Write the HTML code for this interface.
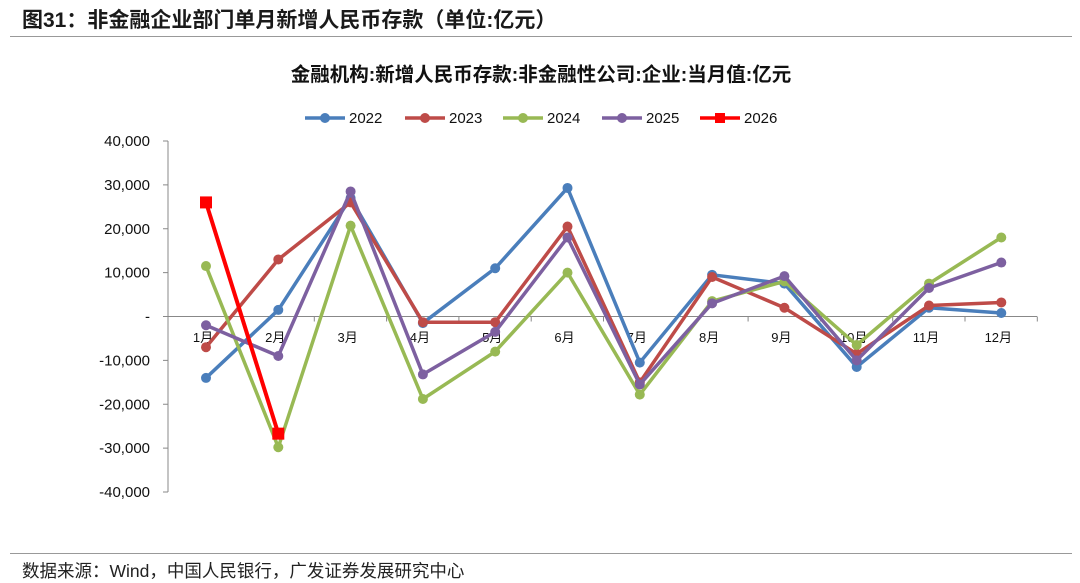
<!DOCTYPE html>
<html><head><meta charset="utf-8">
<style>
body{margin:0;width:1080px;height:583px;background:#fff;font-family:"Liberation Sans","Noto Sans CJK SC",sans-serif;overflow:hidden;position:relative}
.t{position:absolute;white-space:nowrap}
</style></head><body>
<div class="t" style="left:22px;top:4px;font-size:21px;font-weight:bold;color:#1a1a1a">图31：非金融企业部门单月新增人民币存款（单位:亿元）</div>
<div style="position:absolute;left:10px;top:36px;width:1062px;height:1px;background:#999"></div>
<div style="position:absolute;left:10px;top:553px;width:1062px;height:1px;background:#999"></div>
<div class="t" style="left:22px;top:558px;font-size:17.5px;color:#222">数据来源：Wind，中国人民银行，广发证券发展研究中心</div>
<svg id="c" width="1080" height="583" style="position:absolute;left:0;top:0"></svg>
<script>
const months=["1月","2月","3月","4月","5月","6月","7月","8月","9月","10月","11月","12月"];
const yTicks=[40000,30000,20000,10000,0,-10000,-20000,-30000,-40000];
const s2022=[-14000,1500,27000,-1500,11000,29300,-10500,9500,7500,-11500,2000,800];
const s2023=[-7000,13000,26000,-1300,-1300,20500,-15000,9000,2000,-8500,2500,3200];
const s2024=[11500,-29800,20700,-18800,-8000,10000,-17800,3500,8000,-6500,7500,18000];
const s2025=[-2000,-9000,28500,-13200,-3500,18000,-15500,3000,9200,-10000,6500,12300];
const s2026=[26000,-26700];
const seriesNames=["2022","2023","2024","2025","2026"];
const colors=["#4a7ebb","#be4b48","#98b954","#7d60a0","#ff0000"];
const all=[s2022,s2023,s2024,s2025,s2026];
const svg=document.getElementById('c');const NS="http://www.w3.org/2000/svg";
function el(t,a){const e=document.createElementNS(NS,t);for(const k in a)e.setAttribute(k,a[k]);svg.appendChild(e);return e;}
const y=v=>316.5-v*(351/80000);
const x=i=>206+i*72.3;
let e=el('text',{x:541,y:81,'text-anchor':'middle','font-size':19.5,'font-weight':'bold',fill:'#111'});e.textContent="金融机构:新增人民币存款:非金融性公司:企业:当月值:亿元";


e=el('line',{x1:168,x2:168,y1:141,y2:492,stroke:'#888'});


yTicks.forEach(v=>{el('line',{x1:163,x2:168,y1:y(v),y2:y(v),stroke:'#888'});
 const t=el('text',{x:150,y:y(v)+5,'text-anchor':'end','font-size':15,fill:'#111'});t.textContent=v==0?'-':v.toLocaleString('en-US');
 
 });
e=el('line',{x1:168,x2:1037,y1:y(0),y2:y(0),stroke:'#888'});


months.forEach((m,i)=>{el('line',{x1:x(i)+36,x2:x(i)+36,y1:y(0),y2:y(0)+5,stroke:'#888'});
 const t=el('text',{x:x(i)-3,y:342,'text-anchor':'middle','font-size':13,fill:'#111'});t.textContent=m;
 
 });
all.forEach((s,k)=>{
 const p=el('polyline',{points:s.map((v,i)=>x(i)+','+y(v)).join(' '),fill:'none',stroke:colors[k],'stroke-width':k==4?4:3.5,'stroke-linejoin':'round'});
 
 
 s.forEach((v,i)=>{const m=k==4?el('rect',{x:x(i)-6,y:y(v)-6,width:12,height:12,fill:colors[k]}):el('circle',{cx:x(i),cy:y(v),r:5,fill:colors[k]});
  
  });
 const lx=[305,405,503,602,700][k];
 const g=el('line',{x1:lx,x2:lx+40,y1:118,y2:118,stroke:colors[k],'stroke-width':3.5});
 
 
 const mk=k==4?el('rect',{x:lx+15,y:113,width:10,height:10,fill:colors[k]}):el('circle',{cx:lx+20,cy:118,r:5,fill:colors[k]});
 
 
 const lt=el('text',{x:lx+44,y:123,'font-size':15,fill:'#111'});lt.textContent=seriesNames[k];
 
 
});
</script>
</body></html>
